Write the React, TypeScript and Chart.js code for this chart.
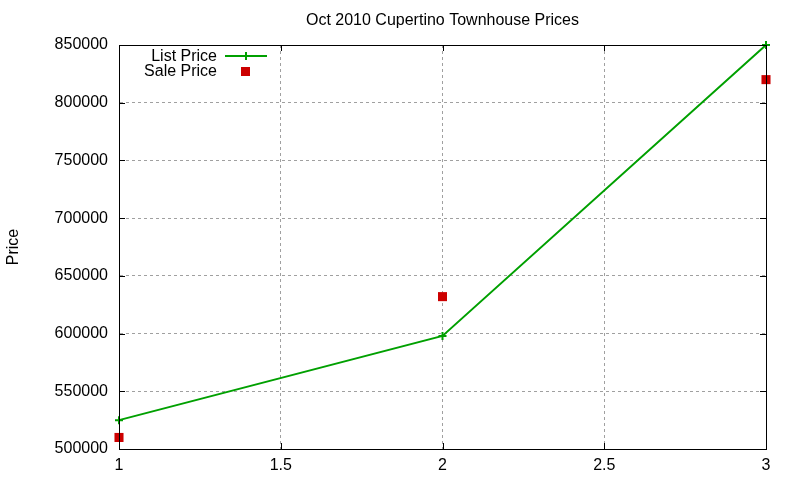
import { useEffect, useRef } from 'react';
import { Chart, registerables, Plugin } from 'chart.js';

Chart.register(...registerables);

const chartTitle = 'Oct 2010 Cupertino Townhouse Prices';
const yAxisTitle = 'Price';
const seriesNames = ['List Price', 'Sale Price'];
const xValues = [1, 2, 3];
const listPrices = [525000, 598000, 850000];
const salePrices = [510000, 632000, 820000];

const palette = {
  list: '#00a000',
  sale: '#cc0000',
  grid: '#a0a0a0',
  text: '#000000',
};

const fontFamily = '"Liberation Sans", Arial, sans-serif';

// gnuplot look: frame on all four sides, ticks pointing inward, title and key drawn by hand
const gnuplotDecor: Plugin<'line'> = {
  id: 'gnuplotDecor',
  afterDraw(chart) {
    const { ctx, chartArea: a, scales } = chart;
    ctx.save();
    ctx.strokeStyle = '#000';
    ctx.lineWidth = 1;
    ctx.strokeRect(a.left + 0.5, a.top + 0.5, a.right - a.left, a.bottom - a.top);

    const tick = 6;
    ctx.beginPath();
    scales.x.ticks.forEach((t) => {
      const px = Math.round(scales.x.getPixelForValue(t.value)) + 0.5;
      ctx.moveTo(px, a.bottom);
      ctx.lineTo(px, a.bottom - tick);
      ctx.moveTo(px, a.top);
      ctx.lineTo(px, a.top + tick);
    });
    scales.y.ticks.forEach((t) => {
      const py = Math.round(scales.y.getPixelForValue(t.value)) + 0.5;
      ctx.moveTo(a.left, py);
      ctx.lineTo(a.left + tick, py);
      ctx.moveTo(a.right, py);
      ctx.lineTo(a.right - tick, py);
    });
    ctx.stroke();

    ctx.fillStyle = palette.text;
    ctx.font = `16px ${fontFamily}`;
    ctx.textAlign = 'center';
    ctx.textBaseline = 'middle';
    ctx.fillText(chartTitle, (a.left + a.right) / 2, 21);

    // key
    ctx.textAlign = 'right';
    ctx.fillText(seriesNames[0], 217, 57);
    ctx.fillText(seriesNames[1], 217, 72);

    ctx.strokeStyle = palette.list;
    ctx.lineWidth = 2;
    ctx.beginPath();
    ctx.moveTo(225, 56);
    ctx.lineTo(267, 56);
    ctx.moveTo(246, 52);
    ctx.lineTo(246, 60);
    ctx.stroke();

    ctx.fillStyle = palette.sale;
    ctx.fillRect(241, 67, 9, 9);
    ctx.restore();
  },
};

export default function App(): JSX.Element {
  const canvasRef = useRef<HTMLCanvasElement | null>(null);

  useEffect(() => {
    if (!canvasRef.current) return;
    const context = canvasRef.current.getContext('2d');
    if (!context) return;

    const chart = new Chart(context, {
      type: 'line',
      data: {
        datasets: [
          {
            label: seriesNames[0],
            data: xValues.map((x, i) => ({ x, y: listPrices[i] })),
            borderColor: palette.list,
            backgroundColor: palette.list,
            borderWidth: 2,
            pointStyle: 'cross',
            pointRadius: 4,
            pointBorderWidth: 2,
            clip: false,
          },
          {
            label: seriesNames[1],
            data: xValues.map((x, i) => ({ x, y: salePrices[i] })),
            showLine: false,
            borderColor: palette.sale,
            backgroundColor: palette.sale,
            pointStyle: 'rect',
            pointRadius: 6.4,
            pointBorderWidth: 0,
            clip: false,
          },
        ],
      },
      options: {
        responsive: false,
        animation: false,
        layout: { padding: { top: 45, right: 34, left: 0, bottom: 0 } },
        plugins: {
          legend: { display: false },
          tooltip: { enabled: false },
          title: { display: false },
        },
        scales: {
          x: {
            type: 'linear',
            min: 1,
            max: 3,
            ticks: {
              stepSize: 0.5,
              color: palette.text,
              padding: 7,
              font: { family: fontFamily, size: 16 },
              callback: (value) => String(Number(value)),
            },
            grid: {
              color: palette.grid,
              drawTicks: false,
            },
            border: { display: true, color: '#000', dash: [3, 3] },
            afterFit: (scale) => {
              scale.height = 31;
            },
          },
          y: {
            type: 'linear',
            min: 500000,
            max: 850000,
            ticks: {
              stepSize: 50000,
              color: palette.text,
              padding: 11,
              font: { family: fontFamily, size: 16 },
              callback: (value) => String(value),
            },
            grid: {
              color: palette.grid,
              drawTicks: false,
            },
            border: { display: true, color: '#000', dash: [3, 3] },
            title: {
              display: true,
              text: yAxisTitle,
              color: palette.text,
              padding: { top: 4, bottom: 0 },
              font: { family: fontFamily, size: 16 },
            },
            afterFit: (scale) => {
              scale.width = 119;
            },
          },
        },
      },
      plugins: [gnuplotDecor],
    });

    return () => {
      chart.destroy();
    };
  }, []);

  return (
    <div style={{ position: 'absolute', left: 0, top: 0, width: 800, height: 480, background: '#fff' }}>
      <canvas ref={canvasRef} width={800} height={480} />
    </div>
  );
}
